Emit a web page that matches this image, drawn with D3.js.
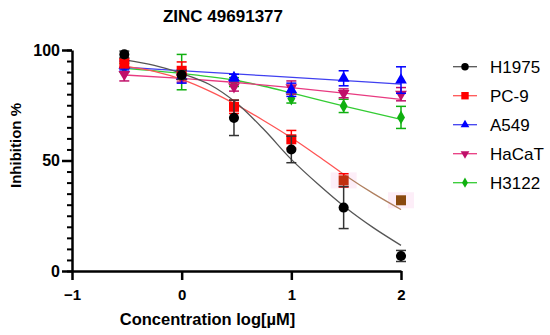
<!DOCTYPE html>
<html>
<head>
<meta charset="utf-8">
<script src="https://cdn.jsdelivr.net/npm/d3@7"></script>
<style>
  body { margin: 0; background: #fff; }
  text { font-family: "Liberation Sans", Arial, sans-serif; }
</style>
</head>
<body>
<div id="chart"></div>
<script>
// log10 concentrations used for every cell line
const doses = [-0.523, 0, 0.477, 1, 1.477, 2];

const lines = ['H1975', 'PC-9', 'A549', 'HaCaT', 'H3122'];

// mean inhibition % and error
const h1975 = [98, 88.7, 69.3, 55, 28.7, 6.8];
const h1975Err = [1.5, 2, 8, 6, 9.5, 2.5];
const pc9 = [94, 90.6, 74.3, 59.6, 41, 32];
const pc9Err = [2, 4, 3, 4, 3, 1];
const a549 = [93, 88, 87.5, 82, 87.2, 86.4];
const a549Err = [2, 3, 1.5, 3, 3.4, 6];
const hacat = [89, 87.5, 83.4, 83, 80.4, 80];
const hacatErr = [3, 2, 2, 3, 2, 3];
const h3122 = [92, 90, 85.5, 78, 74.7, 69.5];
const h3122Err = [2, 8, 2, 2, 3, 5];

// fitted curves, sampled from the figure [log dose, %]
const h1975Fit = [[-0.52,95.5],[-0.25,93],[0,89.4],[0.25,84.5],[0.5,76],[0.75,64],[1,50.5],[1.25,39],[1.5,28.5],[1.75,19.5],[2,11.6]];
const pc9Fit = [[-0.52,92.7],[-0.25,90.3],[0,86.7],[0.25,81.5],[0.5,75.2],[0.75,68],[1,60.3],[1.25,51.8],[1.5,43],[1.75,35],[2,27.8]];
const a549Fit = [[-0.52,92.2],[0.75,88.4],[2,84.6]];
const hacatFit = [[-0.52,88.7],[0,87.2],[0.5,85.3],[1,83],[1.5,80.4],[2,77.6]];
const h3122Fit = [[-0.52,91.7],[0,89.4],[0.5,86.2],[0.75,83.6],[1,80.6],[1.5,74.4],[2,68.6]];

const xTicks = [-1, 0, 1, 2];
const yTicks = [0, 50, 100];

const series = [
  {name: lines[0], mean: h1975, err: h1975Err, fit: h1975Fit, color: '#000000', lineColor: '#555555', sym: d3.symbolCircle, size: 80},
  {name: lines[1], mean: pc9, err: pc9Err, fit: pc9Fit, color: '#ff0000', lineColor: '#ff5555', sym: d3.symbolSquare, size: 100},
  {name: lines[2], mean: a549, err: a549Err, fit: a549Fit, color: '#0000ff', lineColor: '#4040f0', sym: d3.symbolTriangle, size: 60},
  {name: lines[3], mean: hacat, err: hacatErr, fit: hacatFit, color: '#c0106a', lineColor: '#e83a80', sym: d3.symbolTriangle, size: 60, flip: true},
  {name: lines[4], mean: h3122, err: h3122Err, fit: h3122Fit, color: '#10b010', lineColor: '#33cc33', sym: d3.symbolDiamond, size: 55}
];

const width = 550, height = 335;
const svg = d3.select('#chart').append('svg')
  .attr('width', width)
  .attr('height', height);

const x = d3.scaleLinear().domain([-1, 2]).range([72, 401]);
const y = d3.scaleLinear().domain([0, 100]).range([271, 50]);

// title
svg.append('text')
  .attr('x', 223).attr('y', 21.5)
  .attr('text-anchor', 'middle')
  .style('font-size', '17px').style('font-weight', 'bold')
  .text('ZINC 49691377');

// y axis, minor ticks then major
svg.append('g')
  .attr('transform', `translate(${x(-1)},0)`)
  .call(d3.axisLeft(y).tickValues(d3.range(0, 101, 5)).tickSize(5).tickFormat(''))
  .call(g => g.select('.domain').remove())
  .call(g => g.selectAll('line').attr('stroke-width', 2));

svg.append('g')
  .attr('transform', `translate(${x(-1)},0)`)
  .call(d3.axisLeft(y).tickValues(yTicks).tickSize(10).tickSizeOuter(0).tickPadding(2))
  .call(g => g.select('.domain').attr('stroke-width', 2.5))
  .call(g => g.selectAll('line').attr('stroke-width', 2.5))
  .call(g => g.selectAll('text').style('font-size', '16px').style('font-weight', 'bold').attr('fill', '#000'));

// x axis
svg.append('g')
  .attr('transform', `translate(0,${y(0)})`)
  .call(d3.axisBottom(x).tickValues(xTicks).tickFormat(d3.format('d')).tickSize(9).tickSizeOuter(0).tickPadding(9))
  .call(g => g.select('.domain').attr('stroke-width', 2.5))
  .call(g => g.selectAll('line').attr('stroke-width', 2.5))
  .call(g => g.selectAll('text').style('font-size', '15px').style('font-weight', 'bold').attr('fill', '#000'));

// axis titles
svg.append('text')
  .attr('transform', 'translate(21,145.5) rotate(-90)')
  .attr('text-anchor', 'middle')
  .style('font-size', '15px').style('font-weight', 'bold')
  .text('Inhibition %');

svg.append('text')
  .attr('x', 207.5).attr('y', 325)
  .attr('text-anchor', 'middle')
  .style('font-size', '16.5px').style('font-weight', 'bold')
  .text('Concentration log[µM]');

// faint pink halo artefacts behind the last PC-9 points
const halo = svg.append('g');
[4, 5].forEach(i => {
  halo.append('rect')
    .attr('x', x(doses[i]) - 13).attr('y', y(pc9[i]) - 8)
    .attr('width', 26).attr('height', 16)
    .attr('fill', '#fdeef8');
});

const line = d3.line()
  .x(d => x(d[0]))
  .y(d => y(d[1]))
  .curve(d3.curveMonotoneX);

// clip for the brownish tail of the PC-9 curve
const defs = svg.append('defs');
defs.append('clipPath').attr('id', 'left').append('rect')
  .attr('x', 0).attr('y', 0).attr('width', x(1.45)).attr('height', height);
defs.append('clipPath').attr('id', 'right').append('rect')
  .attr('x', x(1.45)).attr('y', 0).attr('width', width).attr('height', height);

const draw = series.slice().reverse();

draw.forEach(s => {
  if (s.name === 'PC-9') {
    svg.append('path').datum(s.fit)
      .attr('d', line).attr('fill', 'none')
      .attr('stroke', s.lineColor).attr('stroke-width', 1.3)
      .attr('clip-path', 'url(#left)');
    svg.append('path').datum(s.fit)
      .attr('d', line).attr('fill', 'none')
      .attr('stroke', '#b08060').attr('stroke-width', 1.3)
      .attr('clip-path', 'url(#right)');
  } else {
    svg.append('path').datum(s.fit)
      .attr('d', line).attr('fill', 'none')
      .attr('stroke', s.lineColor).attr('stroke-width', 1.3);
  }
});

draw.forEach(s => {
  const g = svg.append('g');
  const pts = doses.map((d, i) => ({x: d, m: s.mean[i], e: s.err[i], i: i}));
  const eb = g.selectAll('.eb').data(pts).enter().append('g')
    .attr('stroke', s.name === 'H1975' ? '#333' : s.color)
    .attr('stroke-width', 1.5);
  eb.append('line')
    .attr('x1', d => x(d.x)).attr('x2', d => x(d.x))
    .attr('y1', d => y(d.m + d.e)).attr('y2', d => y(d.m - d.e));
  eb.append('line')
    .attr('x1', d => x(d.x) - 5).attr('x2', d => x(d.x) + 5)
    .attr('y1', d => y(d.m + d.e)).attr('y2', d => y(d.m + d.e));
  eb.append('line')
    .attr('x1', d => x(d.x) - 5).attr('x2', d => x(d.x) + 5)
    .attr('y1', d => y(d.m - d.e)).attr('y2', d => y(d.m - d.e));

  g.selectAll('.pt').data(pts).enter().append('path')
    .attr('d', d3.symbol().type(s.sym).size(s.size))
    .attr('transform', d => `translate(${x(d.x)},${y(d.m)})` + (s.flip ? ' rotate(180)' : ''))
    .attr('fill', d => {
      if (s.name === 'PC-9' && d.i === 4) return '#c03010';
      if (s.name === 'PC-9' && d.i === 5) return '#8a4a10';
      return s.color;
    });
});

// legend
const legend = svg.append('g');
series.forEach((s, i) => {
  const cy = 66.7 + i * 29;
  legend.append('line')
    .attr('x1', 453).attr('x2', 477).attr('y1', cy).attr('y2', cy)
    .attr('stroke', s.lineColor).attr('stroke-width', 1.3);
  legend.append('path')
    .attr('d', d3.symbol().type(s.sym).size(s.size * 0.55))
    .attr('transform', `translate(465,${cy})` + (s.flip ? ' rotate(180)' : ''))
    .attr('fill', s.color);
  legend.append('text')
    .attr('x', 490).attr('y', cy + 6)
    .style('font-size', '17px')
    .text(s.name);
});
</script>
</body>
</html>
